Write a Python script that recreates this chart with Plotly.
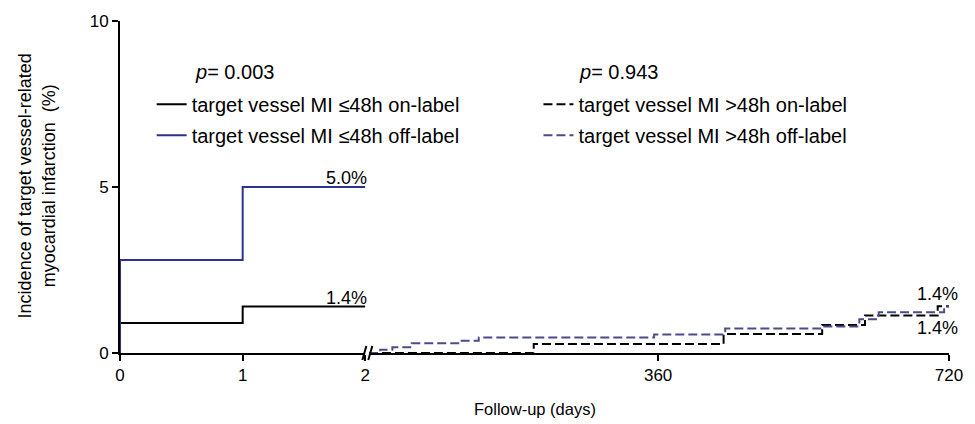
import plotly.graph_objects as go

# ---- data ----
# early phase (days 0-2), step curves
early_days = [0, 1, 2]
early_on = [0.9, 1.4, 1.4]      # target vessel MI <=48h on-label
early_off = [2.8, 5.0, 5.0]     # target vessel MI <=48h off-label

# late phase (days 2-720), step curves
late_on_days = [2, 206, 441, 563, 616, 706, 720]
late_on = [0.0, 0.27, 0.57, 0.84, 1.13, 1.41, 1.41]
late_off_days = [2, 16, 31, 55, 114, 138, 355, 443, 563, 609, 633, 714, 720]
late_off = [0.0, 0.10, 0.17, 0.29, 0.37, 0.47, 0.56, 0.74, 0.80, 1.02, 1.23, 1.40, 1.40]

names = ["target vessel MI \u226448h on-label", "target vessel MI \u226448h off-label",
         "target vessel MI >48h on-label", "target vessel MI >48h off-label"]
p_values = ["<i>p</i>= 0.003", "<i>p</i>= 0.943"]
y_ticks = [0, 5, 10]
x1_ticks = [0, 1, 2]
x2_ticks = [360, 720]

BLACK = "#000000"
BLUE = "#2e3192"
SLATE = "#4b4b88"
FONT = "Liberation Sans, Arial, sans-serif"

fig = go.Figure()
fig.add_trace(go.Scatter(x=[0] + early_days, y=[0] + early_on, mode="lines", line_shape="hv",
                         line=dict(color=BLACK, width=2), name=names[0],
                         legend="legend", legendgroup="a", xaxis="x", yaxis="y"))
fig.add_trace(go.Scatter(x=[0] + early_days, y=[0] + early_off, mode="lines", line_shape="hv",
                         line=dict(color=BLUE, width=2), name=names[1],
                         legend="legend", legendgroup="b", xaxis="x", yaxis="y"))
fig.add_trace(go.Scatter(x=late_on_days, y=late_on, mode="lines", line_shape="hv",
                         line=dict(color=BLACK, width=2, dash="9px,4px"), name=names[2],
                         legend="legend2", legendgroup="c", xaxis="x2", yaxis="y"))
fig.add_trace(go.Scatter(x=late_off_days, y=late_off, mode="lines", line_shape="hv",
                         line=dict(color=SLATE, width=2, dash="9px,4px"), name=names[3],
                         legend="legend2", legendgroup="d", xaxis="x2", yaxis="y"))

L, R, T, B = 120, 17, 20, 71
W, H = 975, 424
pw = W - L - R
ph = H - T - B
left_end = (368 - L) / pw
right_start = (371.6 - L) / pw

axis_common = dict(showline=True, linecolor="black", linewidth=2, ticks="outside",
                   ticklen=6, tickwidth=2, tickcolor="black", showgrid=False, zeroline=False,
                   tickfont=dict(size=17, color="black", family=FONT), layer="below traces")

fig.update_layout(
    width=W, height=H, margin=dict(l=L, r=R, t=T, b=B),
    paper_bgcolor="white", plot_bgcolor="white",
    font=dict(family=FONT, color="black"),
    xaxis=dict(domain=[0, left_end], range=[0, 2], tickvals=x1_ticks, anchor="y", **axis_common),
    xaxis2=dict(domain=[right_start, 1], range=[2, 720], tickvals=x2_ticks, anchor="y", **axis_common),
    yaxis=dict(range=[0, 10], tickvals=y_ticks, anchor="x", **axis_common),
    legend=dict(x=(152 - L) / pw, y=(353 - 84) / ph, xanchor="left", yanchor="top",
                font=dict(size=20, family=FONT), tracegroupgap=2, itemwidth=30,
                bgcolor="rgba(0,0,0,0)"),
    legend2=dict(x=(543 - L) / pw, y=(353 - 84) / ph, xanchor="left", yanchor="top",
                 font=dict(size=20, family=FONT), tracegroupgap=2, itemwidth=30,
                 bgcolor="rgba(0,0,0,0)"),
    showlegend=True,
)

# p-value labels
fig.add_annotation(x=(194 - L) / pw, y=(353 - 71) / ph, xref="paper", yref="paper",
                   text=p_values[0], showarrow=False, xanchor="left", yanchor="middle",
                   font=dict(size=20))
fig.add_annotation(x=(582 - L) / pw, y=(353 - 71) / ph, xref="paper", yref="paper",
                   text=p_values[1], showarrow=False, xanchor="left", yanchor="middle",
                   font=dict(size=20))

# end-point labels
fig.add_annotation(x=early_days[-1], y=early_off[-1], xref="x", yref="y", text=f"{early_off[-1]:.1f}%",
                   showarrow=False, xanchor="right", yanchor="bottom", font=dict(size=18), yshift=-3, xshift=4)
fig.add_annotation(x=early_days[-1], y=early_on[-1], xref="x", yref="y", text=f"{early_on[-1]:.1f}%",
                   showarrow=False, xanchor="right", yanchor="bottom", font=dict(size=18), yshift=-3, xshift=4)
fig.add_annotation(x=late_off_days[-1], y=late_off[-1], xref="x2", yref="y", text=f"{late_off[-1]:.1f}%",
                   showarrow=False, xanchor="right", yanchor="bottom", font=dict(size=18), yshift=1, xshift=11)
fig.add_annotation(x=late_on_days[-1], y=late_on[-1], xref="x2", yref="y", text=f"{late_on[-1]:.1f}%",
                   showarrow=False, xanchor="right", yanchor="top", font=dict(size=18), yshift=-10, xshift=11)

# axis titles
fig.add_annotation(x=(36 - L) / pw, y=(353 - 185) / ph, xref="paper", yref="paper",
                   text="Incidence of target vessel-related<br>myocardial infarction  (%)",
                   showarrow=False, textangle=-90, xanchor="center", yanchor="middle",
                   font=dict(size=18))
fig.add_annotation(x=0.5, y=(353 - 409) / ph, xref="paper", yref="paper",
                   text="Follow-up (days)", showarrow=False, xanchor="center", yanchor="middle",
                   font=dict(size=16.5))

# axis break marks "//"
for x0 in (365, 371):
    fig.add_shape(type="line", xref="paper", yref="paper",
                  x0=(x0 - L) / pw, x1=(x0 + 4 - L) / pw,
                  y0=(353 - 360) / ph, y1=(353 - 346) / ph,
                  line=dict(color="black", width=2))

fig.write_html("out.html")
